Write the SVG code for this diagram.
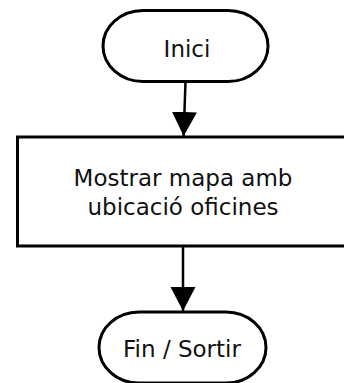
<svg xmlns="http://www.w3.org/2000/svg" width="344" height="383" viewBox="0 0 344 383">
  <defs>
    <style>
      .shape { fill: #ffffff; stroke: #000000; stroke-width: 3; }
      .label { font-family: "DejaVu Sans", Verdana, sans-serif; font-size: 23px; fill: #111111; text-anchor: middle; }
      .conn { fill: none; stroke: #000000; stroke-width: 2.5; }
    </style>
    <marker id="arrow" markerUnits="userSpaceOnUse" markerWidth="26" markerHeight="26" viewBox="0 0 26 26" refX="24" refY="13" orient="auto">
      <path d="M0,0.5 L24,13 L0,25.5 Z" fill="#000000"/>
    </marker>
  </defs>
  <rect width="344" height="383" fill="#ffffff"/>
  <g id="connectors">
    <path class="conn" d="M185.5,82 L183.6,136" marker-end="url(#arrow)"/>
    <path class="conn" d="M183,247 L183,311" marker-end="url(#arrow)"/>
  </g>
  <g id="node-inici">
    <rect class="shape" x="103" y="10.5" width="165" height="71" rx="40" ry="35.5"/>
    <text class="label" x="187" y="57">Inici</text>
  </g>
  <g id="node-mostrar">
    <rect class="shape" x="17.5" y="137" width="345" height="109"/>
    <text class="label" x="183" y="186">Mostrar mapa amb</text>
    <text class="label" x="183" y="215">ubicació oficines</text>
  </g>
  <g id="node-fin">
    <rect class="shape" x="99" y="312" width="167" height="71" rx="40" ry="35.5"/>
    <text class="label" x="182" y="357">Fin / Sortir</text>
  </g>
</svg>
